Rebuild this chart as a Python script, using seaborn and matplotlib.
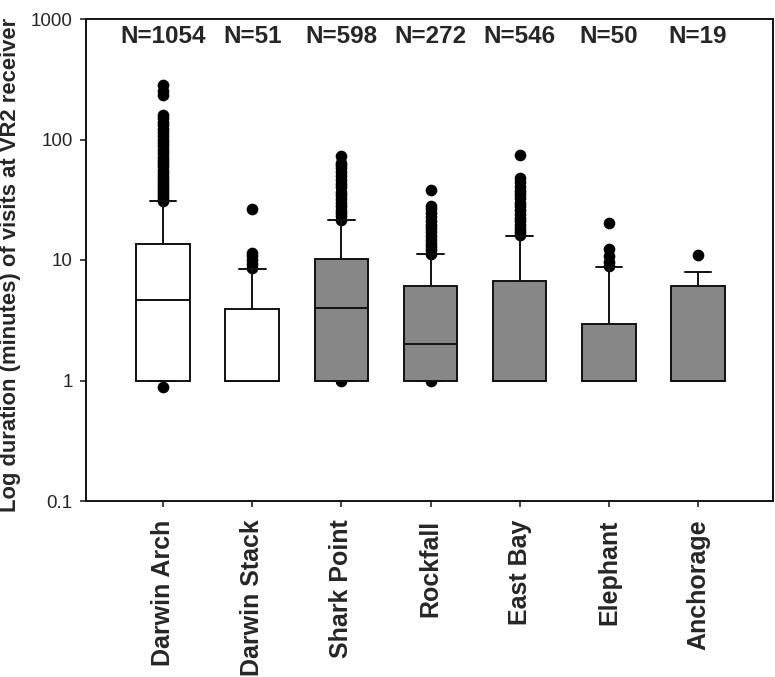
import seaborn as sns
import matplotlib.pyplot as plt
import pandas as pd

# sites on the x axis
sites = ["Darwin Arch", "Darwin Stack", "Shark Point", "Rockfall",
         "East Bay", "Elephant", "Anchorage"]
n_visits = [1054, 51, 598, 272, 546, 50, 19]

# box summaries (minutes)
whis_low = [1, 1, 1, 1, 1, 1, 1]
q1 = [1, 1, 1, 1, 1, 1, 1]
median = [4.64, 1, 4.0, 2.02, 1, 1, 1]
q3 = [13.5, 3.93, 10.2, 6.07, 6.72, 2.97, 6.07]
whis_high = [30.6, 8.47, 21.3, 11.2, 15.9, 8.8, 7.94]

# outlying visits
out_darwin_arch = [0.89, 31, 32.5, 34, 36, 38, 40, 42, 44.5, 47, 50, 53, 56,
                   60, 64, 68, 72, 77, 82, 88, 94, 100, 107, 115, 123, 132,
                   141, 151, 160, 236, 252, 284]
out_darwin_stack = [8.6, 9.2, 10, 10.8, 11.4, 26.4]
out_shark_point = [1.0, 21.5, 23, 24.5, 26, 28, 30, 32, 34.5, 37, 40, 43,
                   46, 50, 54, 58, 62, 64, 72.6]
out_rockfall = [1.0, 11.3, 12, 12.8, 13.7, 14.7, 15.8, 17, 18.3, 19.7,
                21.2, 22.8, 24.5, 26.3, 27.8, 38.3]
out_east_bay = [16, 17, 18.2, 19.5, 21, 22.5, 24, 26, 28, 30, 32.5, 35,
                37.5, 40.5, 44, 47.9, 74]
out_elephant = [9.0, 9.7, 10.7, 12.3, 20.2]
out_anchorage = [11.0]
outliers = [out_darwin_arch, out_darwin_stack, out_shark_point, out_rockfall,
            out_east_bay, out_elephant, out_anchorage]

box_colors = ["white", "white", "#878787", "#878787", "#878787", "#878787", "#878787"]

box_rows = []
for i, s in enumerate(sites):
    for v in [whis_low[i], q1[i], median[i], q3[i], whis_high[i]]:
        box_rows.append({"site": s, "value": v})
box_df = pd.DataFrame(box_rows)

out_rows = []
for s, vals in zip(sites, outliers):
    for v in vals:
        out_rows.append({"site": s, "value": v})
out_df = pd.DataFrame(out_rows)

sns.set_style("ticks")
plt.rcParams["font.family"] = ["Liberation Sans", "DejaVu Sans"]

fig = plt.figure(figsize=(7.75, 6.77), dpi=100)
ax = fig.add_axes([86 / 775, 176 / 677, 687 / 775, 482 / 677])
ax.set_yscale("log")

sns.stripplot(data=out_df, x="site", y="value", order=sites, jitter=False,
              color="black", size=8.4, linewidth=0, zorder=1, ax=ax)
sns.boxplot(data=box_df, x="site", y="value", order=sites, hue="site",
            hue_order=sites, palette=box_colors, legend=False, width=0.6,
            whis=(0, 100), showfliers=False, linecolor="#111111",
            linewidth=1.4, zorder=2, ax=ax)

ax.set_xlim(-0.863, 6.84)
ax.set_ylim(0.1, 1000)
ax.set_yticks([0.1, 1, 10, 100, 1000])
ax.set_yticklabels(["0.1", "1", "10", "100", "1000"])
ax.set_xticks(range(len(sites)))
ax.set_xticklabels(sites, rotation=90, fontweight="bold", fontsize=18)
ax.minorticks_off()
ax.tick_params(axis="y", direction="out", length=4.5, width=1.2, labelsize=13.5, pad=5)
ax.tick_params(axis="x", direction="out", length=4.5, width=1.2, pad=9)
for sp in ax.spines.values():
    sp.set_linewidth(1.4)
    sp.set_color("#111111")
ax.set_xlabel("")
ax.set_ylabel("")

for i, n in enumerate(n_visits):
    ax.text(i, 720, "N=%d" % n, ha="center", va="center",
            fontsize=17.5, fontweight="bold")

fig.text(0, (677 - 512) / 677, "Log duration (minutes) of visits at VR2 receiver",
         rotation=90, ha="left", va="bottom", fontsize=15.8, fontweight="bold")

fig.savefig("out.png", dpi=100)
